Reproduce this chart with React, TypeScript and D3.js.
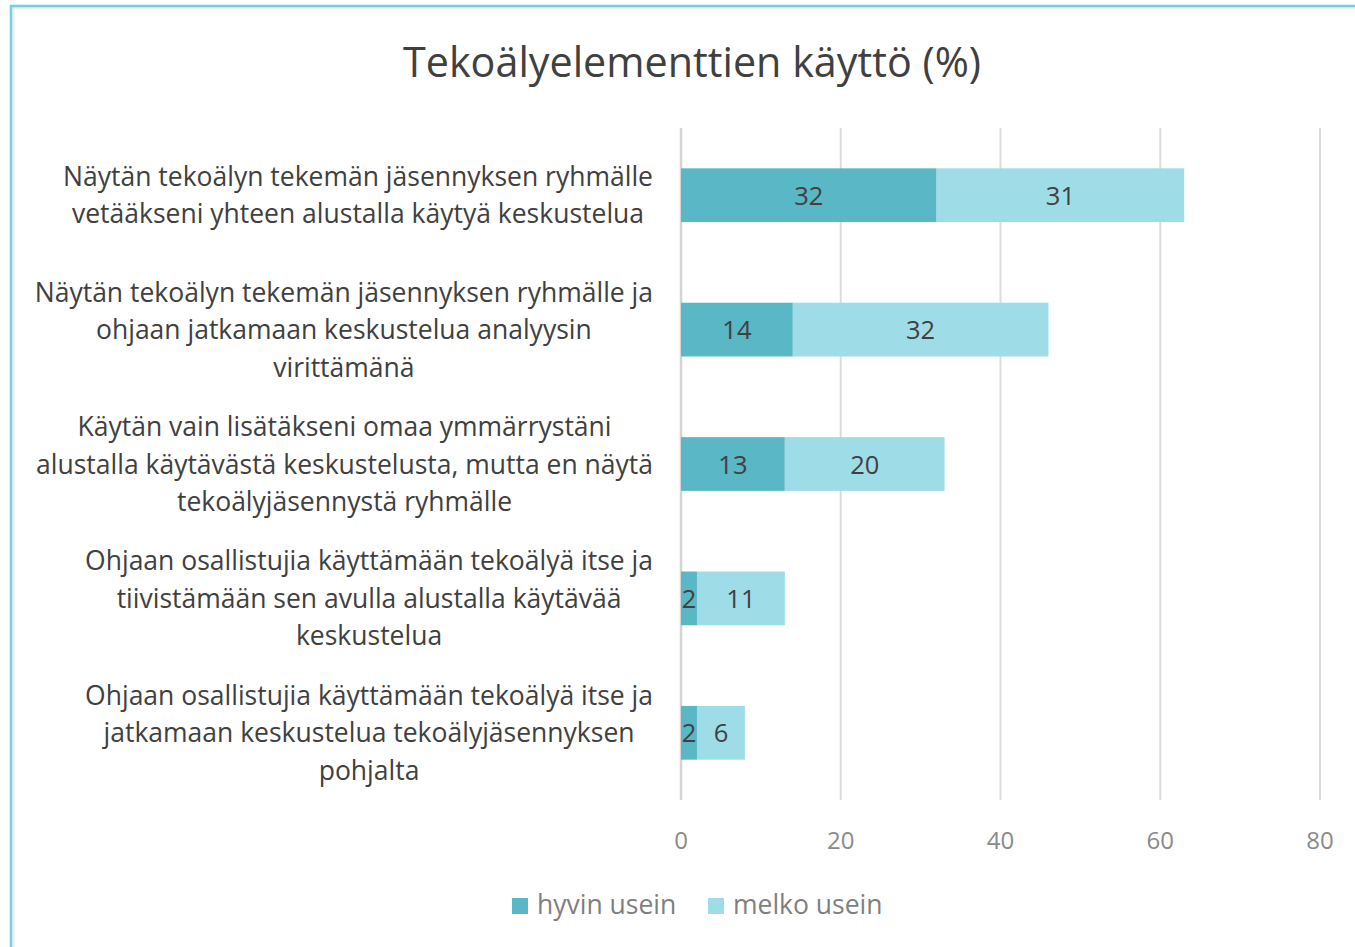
import React, { useEffect, useRef } from "react";
import * as d3 from "d3";

const title = "Tekoälyelementtien käyttö (%)";
const categories: string[][] = [
  ["Näytän tekoälyn tekemän jäsennyksen ryhmälle", "vetääkseni yhteen alustalla käytyä keskustelua"],
  ["Näytän tekoälyn tekemän jäsennyksen ryhmälle ja", "ohjaan jatkamaan keskustelua analyysin", "virittämänä"],
  ["Käytän vain lisätäkseni omaa ymmärrystäni", "alustalla käytävästä keskustelusta, mutta en näytä", "tekoälyjäsennystä ryhmälle"],
  ["Ohjaan osallistujia käyttämään tekoälyä itse ja", "tiivistämään sen avulla alustalla käytävää", "keskustelua"],
  ["Ohjaan osallistujia käyttämään tekoälyä itse ja", "jatkamaan keskustelua tekoälyjäsennyksen", "pohjalta"],
];
const hyvinUsein = [32, 14, 13, 2, 2];
const melkoUsein = [31, 32, 20, 11, 6];
const seriesNames = ["hyvin usein", "melko usein"];
const tickValues = [0, 20, 40, 60, 80];

const W = 1355;
const H = 947;
const FONT = "'Open Sans', 'Noto Sans', sans-serif";
const C_DARK = "#59b7c6";
const C_LIGHT = "#9edde8";
const TEXT = "#404040";

export default function App() {
  const ref = useRef<SVGSVGElement>(null);
  useEffect(() => {
    const svg = d3.select(ref.current);
    svg.selectAll("*").remove();

    // frame
    svg.append("rect").attr("x", 13.5).attr("y", 8).attr("width", W).attr("height", H)
      .attr("fill", "none").attr("stroke", "#ececec").attr("stroke-width", 2);
    svg.append("rect").attr("x", 11).attr("y", 6).attr("width", W).attr("height", H)
      .attr("fill", "none").attr("stroke", "#72d0df").attr("stroke-width", 2.5);

    const x = d3.scaleLinear().domain([0, 80]).range([681, 1320]);
    const y = d3.scaleBand<number>().domain(d3.range(categories.length)).range([128, 800]).paddingInner(0.6).paddingOuter(0.3);

    // title
    svg.append("text").attr("x", 692).attr("y", 77).attr("text-anchor", "middle")
      .attr("font-family", FONT).attr("font-size", 41.3).attr("fill", TEXT).text(title);

    // gridlines
    const g = svg.append("g");
    tickValues.forEach((t) => {
      g.append("line").attr("x1", x(t)).attr("x2", x(t)).attr("y1", 128).attr("y2", 800)
        .attr("stroke", t === 0 ? "#d4d4d4" : "#dcdcdc").attr("stroke-width", t === 0 ? 2.5 : 2);
      g.append("text").attr("x", x(t)).attr("y", 849).attr("text-anchor", "middle")
        .attr("font-family", FONT).attr("font-size", 24).attr("fill", "#8a8a8a").text(String(t));
    });

    // bars
    categories.forEach((_, i) => {
      const y0 = y(i)!;
      const bh = y.bandwidth();
      const segs = [
        { start: 0, v: hyvinUsein[i], c: C_DARK },
        { start: hyvinUsein[i], v: melkoUsein[i], c: C_LIGHT },
      ];
      segs.forEach((s) => {
        svg.append("rect").attr("x", x(s.start)).attr("y", y0).attr("width", x(s.start + s.v) - x(s.start))
          .attr("height", bh).attr("fill", s.c);
        svg.append("text").attr("x", (x(s.start) + x(s.start + s.v)) / 2).attr("y", y0 + bh / 2 + 9.5)
          .attr("text-anchor", "middle").attr("font-family", FONT).attr("font-size", 25.5).attr("fill", TEXT)
          .text(String(s.v));
      });
    });

    // category labels (block right-aligned, lines centered)
    const lineH = 37.5;
    categories.forEach((lines, i) => {
      const cy = y(i)! + y.bandwidth() / 2;
      const grp = svg.append("g");
      const texts = lines.map((ln, k) =>
        grp.append("text").attr("y", cy + (k - (lines.length - 1) / 2) * lineH + 9.5)
          .attr("text-anchor", "middle").attr("font-family", FONT).attr("font-size", 26.5)
          .attr("fill", TEXT).text(ln)
      );
      const maxW = d3.max(texts, (t) => (t.node() as SVGTextElement).getComputedTextLength()) || 0;
      texts.forEach((t) => t.attr("x", 653 - maxW / 2));
    });

    // legend
    const legendItems = [
      { name: seriesNames[0], c: C_DARK, x: 512 },
      { name: seriesNames[1], c: C_LIGHT, x: 708 },
    ];
    legendItems.forEach((it) => {
      svg.append("rect").attr("x", it.x).attr("y", 898).attr("width", 16).attr("height", 16).attr("fill", it.c);
      svg.append("text").attr("x", it.x + 25).attr("y", 914).attr("font-family", FONT).attr("font-size", 26.5)
        .attr("fill", "#7f7f7f").text(it.name);
    });
  }, []);

  return (
    <svg ref={ref} width={W} height={H} style={{ position: "absolute", left: 0, top: 0, background: "#fff" }} />
  );
}
